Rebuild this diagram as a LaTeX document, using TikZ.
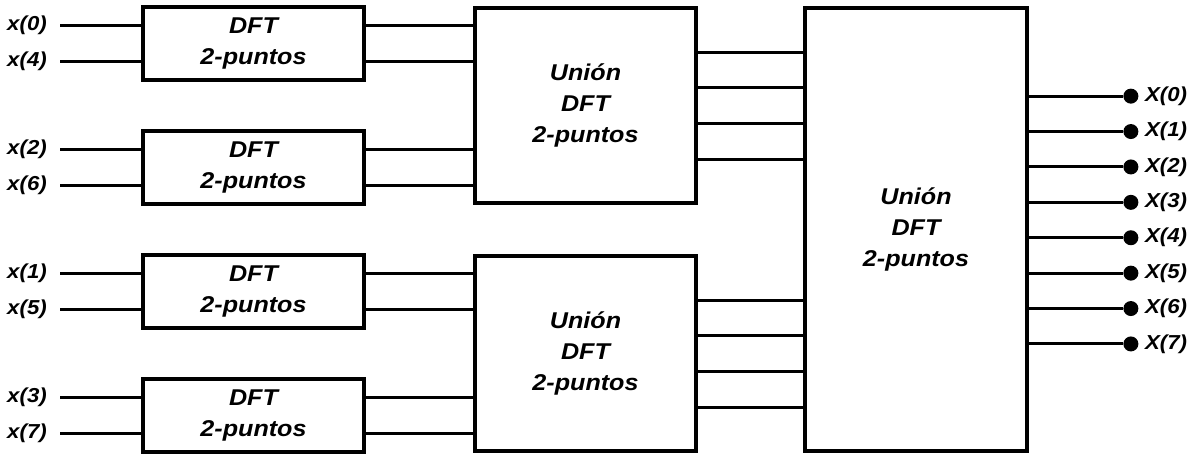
\documentclass[tikz,border=0pt]{standalone}
\usepackage{fontspec}
\newfontfamily\blockfont{Liberation Sans}[FakeStretch=1.1]
\usetikzlibrary{calc}

\begin{document}
\begin{tikzpicture}
	\tikzstyle{mybox}=[draw=black, line width=0.75mm, align=center, font=\blockfont\fontsize{13}{17.5}\selectfont\bfseries\itshape]
	% the three block sizes
	\tikzstyle{dftbox}=[mybox, minimum width=44.2mm, minimum height=14.6mm]
	\tikzstyle{unionbox}=[mybox, minimum width=44.2mm, minimum height=39mm]
	\tikzstyle{totalbox}=[mybox, minimum width=44.4mm, minimum height=88.6mm]

	\tikzstyle{myline}=[line width=0.6mm]
	\tikzstyle{mylabel}=[font=\blockfont\fontsize{11.5}{17.5}\selectfont\bfseries\itshape, inner xsep=2.6mm]
	\tikzstyle{mydot}=[circle, fill=black, inner sep=0pt, minimum size=3mm]

	\useasboundingbox (-50.7mm,8.7mm) rectangle (188.1mm,-82.1mm);

	\node[dftbox] (dft0) {DFT\\2-puntos};
	\node[dftbox] (dft1) at ([yshift=-24.8mm] dft0) {DFT\\2-puntos};
	\node[dftbox] (dft2) at ([yshift=-24.8mm] dft1) {DFT\\2-puntos};
	\node[dftbox] (dft3) at ([yshift=-24.8mm] dft2) {DFT\\2-puntos};

	\node[unionbox, anchor=west] (union0) at ($(dft0.east)!0.5!(dft1.east) + (21.45mm,0)$) {Unión\\DFT\\2-puntos};
	\node[unionbox, anchor=west] (union1) at ($(dft2.east)!0.5!(dft3.east) + (21.45mm,0)$) {Unión\\DFT\\2-puntos};
	\node[totalbox, anchor=west] (total) at ($(union0.east)!0.5!(union1.east) + (21.05mm,0)$) {Unión\\DFT\\2-puntos};

	% inputs in bit-reversed order
	\foreach \i/\a/\b in {0/0/4, 1/2/6, 2/1/5, 3/3/7} {
		\node[mylabel, anchor=east] (in\a) at ([xshift=-16.2mm, yshift=3.6mm] dft\i.west) {x(\a)};
		\node[mylabel, anchor=east] (in\b) at ([xshift=-16.2mm, yshift=-3.6mm] dft\i.west) {x(\b)};
		\draw[myline] (in\a.east) -- (dft\i.west |- in\a.east);
		\draw[myline] (in\b.east) -- (dft\i.west |- in\b.east);
	}

	\foreach \i/\u in {0/0, 1/0, 2/1, 3/1} {
		\draw[myline] ([yshift=3.6mm] dft\i.east) -- ([yshift=3.6mm] union\u.west |- dft\i.east);
		\draw[myline] ([yshift=-3.6mm] dft\i.east) -- ([yshift=-3.6mm] union\u.west |- dft\i.east);
	}

	\foreach \u in {0,1} {
		\foreach \d in {10.7mm, 3.57mm, -3.57mm, -10.7mm} {
			\draw[myline] ([yshift=\d] union\u.east) -- ([yshift=\d] total.west |- union\u.east);
		}
	}

	% outputs
	\foreach \k in {0,...,7} {
		\node[mydot] (dot\k) at ([xshift=20.4mm, yshift={-18mm-\k*7.08mm}] total.north east) {};
		\draw[myline] (total.east |- dot\k) -- (dot\k);
		\node[mylabel, anchor=west, inner xsep=1.2mm] (out\k) at (dot\k.east) {X(\k)};
	}
\end{tikzpicture}
\end{document}
